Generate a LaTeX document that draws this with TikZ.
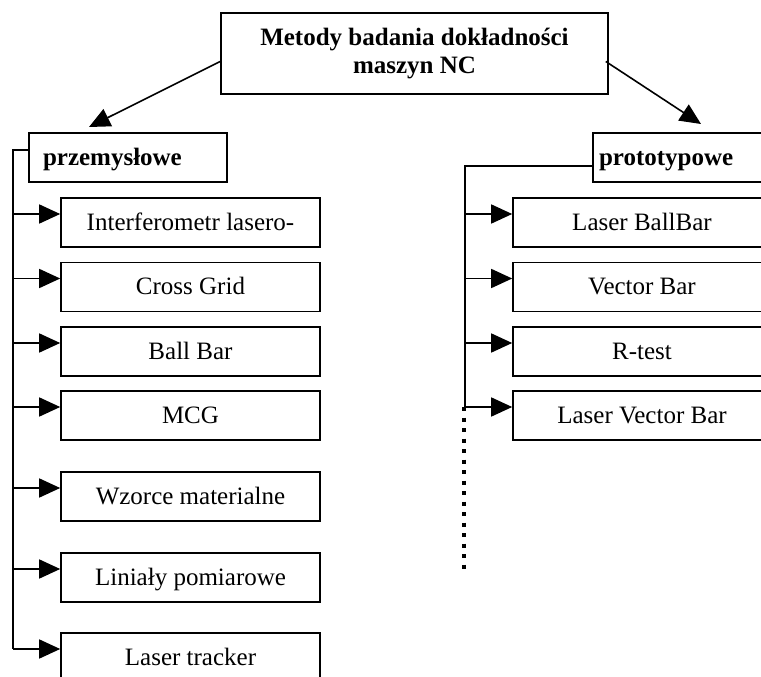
\documentclass[tikz,border=0pt]{standalone}
\usepackage{fontspec}
\setmainfont{Liberation Serif}
\usetikzlibrary{arrows.meta}
\begin{document}
\begin{tikzpicture}[x=1pt,y=-1pt,
  box/.style={draw, line width=1.6pt, minimum height=49pt, inner sep=0pt,
    font=\fontsize{25}{28}\selectfont, text height=20pt, text depth=5pt},
  boldtxt/.style={font=\fontsize{25}{28}\selectfont\bfseries},
  lbox/.style={box, minimum width=259pt},
  rbox/.style={box, minimum width=258pt},
  conn/.style={line width=1.6pt},
  arr/.style={conn, -{Triangle[length=21pt,width=19pt]}},
  dots/.style={line width=4pt, dash pattern=on 4pt off 6.5pt}
  ]
\clip (0,0) rectangle (761,677);
\fill[white] (0,0) rectangle (761,677);

% top
\node[draw, line width=1.6pt, minimum width=387pt, minimum height=81pt, inner sep=0pt,
  align=center, boldtxt] (top) at (414.5,53.5) {Metody badania dokładności\\maszyn NC};

% category boxes
\node[box, boldtxt, minimum width=198pt, text width=170pt, align=left] (przem) at (128,157.5) {przemysłowe};
\node[box, boldtxt, minimum width=198pt, text width=186pt, align=left] (proto) at (692,157.5) {prototypowe};

% left children
\node[lbox] (l1) at (190.5,222.5) {Interferometr lasero-};
\node[lbox] (l2) at (190.5,287) {Cross Grid};
\node[lbox] (l3) at (190.5,351.5) {Ball Bar};
\node[lbox] (l4) at (190.5,415.5) {MCG};
\node[lbox] (l5) at (190.5,496.5) {Wzorce materialne};
\node[lbox] (l6) at (190.5,577.5) {Liniały pomiarowe};
\node[lbox] (l7) at (190.5,657.5) {Laser tracker};

% right children
\node[rbox] (r1) at (642,222.5) {Laser BallBar};
\node[rbox] (r2) at (642,287) {Vector Bar};
\node[rbox] (r3) at (642,351.5) {R-test};
\node[rbox] (r4) at (642,415.5) {Laser Vector Bar};

% main arrows
\coordinate (tipL) at (89,127);
\coordinate (tipR) at (701,124);
\draw[arr] ([yshift=-8pt]top.west) -- (tipL);
\draw[arr] ([yshift=-8pt,xshift=-3pt]top.east) -- (tipR);

% left bus
\coordinate (lb) at (13,150);
\coordinate (lbend) at (13,649);
\draw[conn] ([yshift=7.5pt]przem.west) -- (lb) -- (lbend);
\foreach \n in {l1,l2,l3,l4,l5,l6,l7}
  \draw[arr] ([yshift=8.5pt]\n.west -| lb) -- ([yshift=8.5pt]\n.west);

% right bus
\coordinate (rb) at (465,166);
\coordinate (rbend) at (465,407);
\coordinate (rdot) at (464,569);
\draw[conn] ([yshift=-8.5pt]proto.west) -- (rb) -- (rbend);
\foreach \n in {r1,r2,r3,r4}
  \draw[arr] ([yshift=8.5pt]\n.west -| rb) -- ([yshift=8.5pt]\n.west);
\draw[dots] (rbend -| rdot) -- (rdot);
\end{tikzpicture}
\end{document}
